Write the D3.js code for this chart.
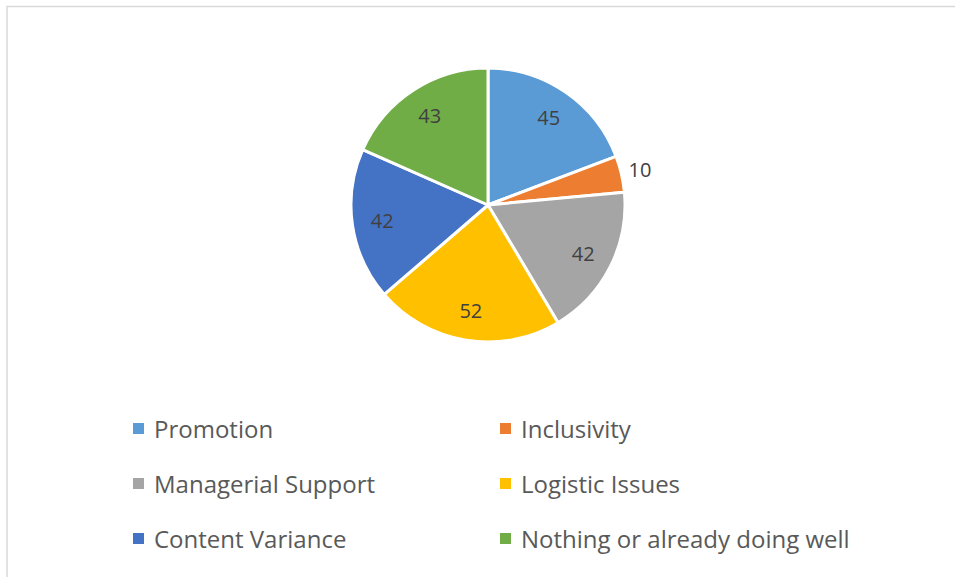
<!DOCTYPE html>
<html>
<head>
<meta charset="utf-8">
<script src="https://cdn.jsdelivr.net/npm/d3@7"></script>
<style>
  html, body { margin: 0; padding: 0; background: #fff; }
  svg { display: block; }
</style>
</head>
<body>
<svg id="chart" width="955" height="577"></svg>
<script>
// Responses by improvement area
const categories = ["Promotion", "Inclusivity", "Managerial Support", "Logistic Issues", "Content Variance", "Nothing or already doing well"];
const values = [45, 10, 42, 52, 42, 43];
const colors = ["#5B9BD5", "#ED7D31", "#A5A5A5", "#FFC000", "#4472C4", "#70AD47"];

const svg = d3.select("#chart");
const fontFamily = "'Open Sans', 'Noto Sans', sans-serif";

// Chart area frame
svg.append("rect")
  .attr("x", 7).attr("y", 6.5)
  .attr("width", 1000).attr("height", 700)
  .attr("fill", "#fff")
  .attr("stroke", "#d9d9d9")
  .attr("stroke-width", 1.5);

const cx = 488, cy = 205, r = 137;

const pie = d3.pie().sort(null).value(d => d);
const arcs = pie(values);
const arc = d3.arc().innerRadius(0).outerRadius(r);

const g = svg.append("g").attr("transform", `translate(${cx},${cy})`);

g.selectAll("path.slice")
  .data(arcs)
  .join("path")
  .attr("class", "slice")
  .attr("d", arc)
  .attr("fill", (d, i) => colors[i])
  .attr("stroke", "#fff")
  .attr("stroke-width", 3)
  .attr("stroke-linejoin", "round");

// Value labels: inside for large slices, just outside for small ones
const inner = d3.arc().innerRadius(r * 0.78).outerRadius(r * 0.78);
const outer = d3.arc().innerRadius(r + 19).outerRadius(r + 19);

g.selectAll("text.value")
  .data(arcs)
  .join("text")
  .attr("class", "value")
  .attr("transform", d => {
    const c = (d.value / d3.sum(values) < 0.08 ? outer : inner).centroid(d);
    return `translate(${c[0]},${c[1]})`;
  })
  .attr("text-anchor", "middle")
  .attr("dominant-baseline", "central")
  .attr("font-family", fontFamily)
  .attr("font-size", 20)
  .attr("fill", "#404040")
  .text(d => d.value);

// Legend, two columns
const legendX = [133, 500];
const legendY = [430, 485, 540];

const items = svg.append("g").selectAll("g.item")
  .data(categories)
  .join("g")
  .attr("class", "item")
  .attr("transform", (d, i) => `translate(${legendX[i % 2]},${legendY[Math.floor(i / 2)]})`);

items.append("rect")
  .attr("x", 0).attr("y", -7)
  .attr("width", 11).attr("height", 11)
  .attr("fill", (d, i) => colors[i]);

items.append("text")
  .attr("x", 21)
  .attr("y", -2)
  .attr("dominant-baseline", "central")
  .attr("font-family", fontFamily)
  .attr("font-size", 24)
  .attr("fill", "#595959")
  .text(d => d);
</script>
</body>
</html>
